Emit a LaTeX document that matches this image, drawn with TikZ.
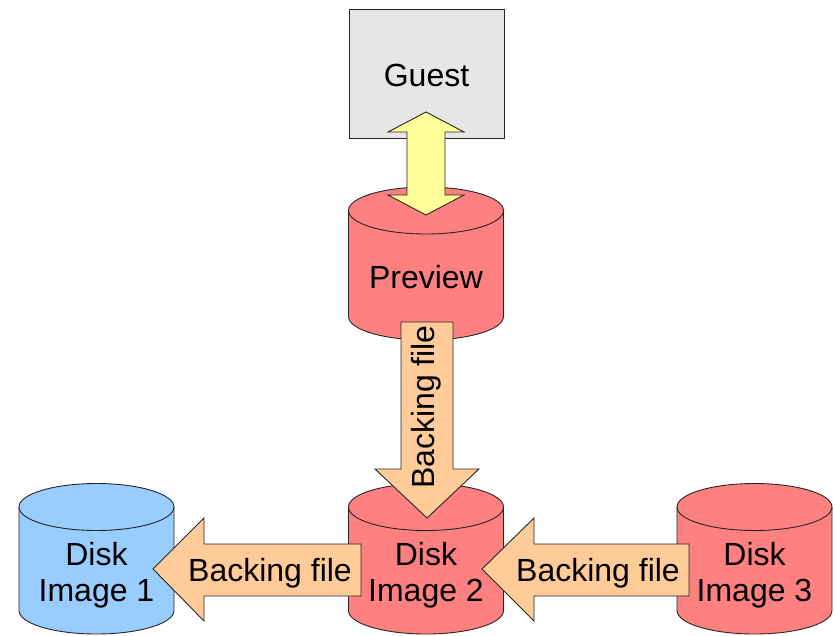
\documentclass[tikz,border=0pt]{standalone}
\usepackage{fontspec}
\setmainfont{Liberation Sans}
\definecolor{guestgray}{HTML}{E6E6E6}
\definecolor{diskred}{HTML}{FF8080}
\definecolor{diskblue}{HTML}{99CCFF}
\definecolor{arrowyellow}{HTML}{FFFF99}
\definecolor{arroworange}{HTML}{FFCC99}
\tikzset{
  outline/.style={draw=black!85, line width=0.9pt, line join=miter},
  lbl/.style={font=\fontsize{32}{36}\selectfont, align=center, inner sep=0pt},
}
% cx, top-ellipse centre y (pixels), bottom-ellipse centre y (pixels), fill
\newcommand\drawcyl[4]{%
  \filldraw[outline, fill=#4] (#1-77.5,-#2) -- (#1-77.5,-#3)
    arc[start angle=180,end angle=360,x radius=77.5,y radius=23.5]
    -- (#1+77.5,-#2)
    arc[start angle=0,end angle=180,x radius=77.5,y radius=23.5] -- cycle;
  \draw[outline] (#1-77.5,-#2) arc[start angle=180,end angle=360,x radius=77.5,y radius=23.5];
}
\begin{document}
\begin{tikzpicture}[x=1pt,y=1pt]
\useasboundingbox (0,0) rectangle (835,-635);
% Guest box
\node[outline, fill=guestgray, minimum width=155pt, minimum height=129pt, inner sep=0pt] (guest) at (426.5,-73.5) {};
% Preview cylinder
\drawcyl{426}{210.5}{316.5}{diskred}
% yellow double arrow
\filldraw[outline, fill=arrowyellow] (426,-112) -- (464,-132) -- (445,-132) -- (445,-195)
  -- (464,-195) -- (426,-215) -- (388,-195) -- (407,-195) -- (407,-132) -- (388,-132) -- cycle;
% disks
\drawcyl{96.5}{507}{610.5}{diskblue}
\drawcyl{426}{507}{610.5}{diskred}
\drawcyl{754.5}{507}{610.5}{diskred}
% backing file arrows
\filldraw[outline, fill=arroworange] (401,-322) -- (453,-322) -- (453,-469) -- (479,-469)
  -- (427,-518) -- (375,-469) -- (401,-469) -- cycle;
\filldraw[outline, fill=arroworange] (153,-569) -- (204,-518) -- (204,-544) -- (361,-544)
  -- (361,-596) -- (204,-596) -- (204,-621) -- cycle;
\filldraw[outline, fill=arroworange] (482,-569) -- (534,-518) -- (534,-544) -- (689,-544)
  -- (689,-596) -- (534,-596) -- (534,-621) -- cycle;
% texts
\node[lbl] (guesttext) at (426.5,-75) {Guest};
\node[lbl] (preview) at (426,-277) {Preview};
\node[lbl] (disk1) at (96.5,-575) {Disk\\Image 1};
\node[lbl] (disk2) at (426,-575) {Disk\\Image 2};
\node[lbl] (disk3) at (754.5,-575) {Disk\\Image 3};
\node[lbl, rotate=90] (bfv) at (426,-407) {Backing file};
\node[lbl] (bfl) at (270,-573) {Backing file};
\node[lbl] (bfr) at (598,-573) {Backing file};
\end{tikzpicture}
\end{document}
